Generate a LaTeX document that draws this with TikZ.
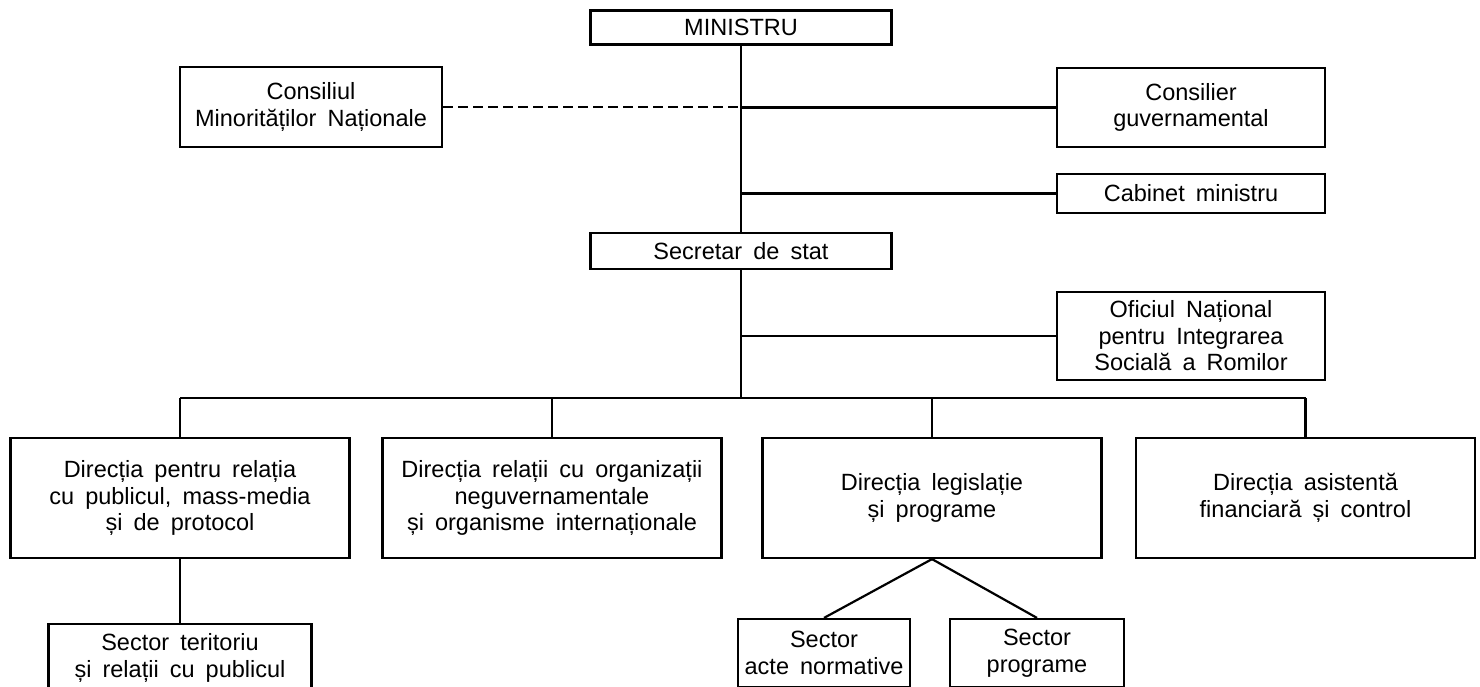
\documentclass[tikz,border=0pt]{standalone}
\usepackage{fontspec}
\setmainfont{Liberation Sans}[WordSpace=1.7]
\usetikzlibrary{calc}

\tikzset{
	box/.style = {draw, line width = 2.2pt, align = center, inner sep = 0pt, font = \fontsize{23.5}{26.5}\selectfont},
	link/.style = {line width = 2.2pt},
}

\begin{document}
\begin{tikzpicture}[x = 1pt, y = -1pt]
		\def\trunk{741};
		\def\bus{398};
		\def\wtop{301}
		\def\wside{268}
		\def\wdir{339}
		\def\hdir{120}
		
		\useasboundingbox (0,0) rectangle (1480,686);
		\clip (0,0) rectangle (1480,686);
		
		\coordinate (bus) at (0,\bus);
		
		\node [box, minimum width = \wtop pt, minimum height = 34pt] (ministru) at (\trunk,27.5) {MINISTRU};
		\node [box, minimum width = \wtop pt, minimum height = 36pt] (secretar) at (\trunk,251) {Secretar de stat};
		
		\node [box, minimum width = 262pt, minimum height = 80pt] (consiliul) at (311,107) {Consiliul\\Minorităților Naționale};
		\node [box, minimum width = \wside pt, minimum height = 79pt] (consilier) at (1191,107.5) {Consilier\\guvernamental};
		\node [box, minimum width = \wside pt, minimum height = 39pt] (cabinet) at (1191,193.5) {Cabinet ministru};
		\node [box, minimum width = \wside pt, minimum height = 88pt] (oficiul) at (1191,336) {Oficiul Național\\pentru Integrarea\\Socială a Romilor};
		
		\node [box, minimum width = \wdir pt, minimum height = \hdir pt] (directia publicul) at (180,498) {Direcția pentru relația\\cu publicul, mass-media\\și de protocol};
		\node [box, minimum width = \wdir pt, minimum height = \hdir pt] (directia ong) at (552,498) {Direcția relații cu organizații\\neguvernamentale\\și organisme internaționale};
		\node [box, minimum width = \wdir pt, minimum height = \hdir pt] (directia legislatie) at (932,498) {Direcția legislație\\și programe};
		\node [box, minimum width = \wdir pt, minimum height = \hdir pt] (directia financiar) at (1305.5,498) {Direcția asistentă\\financiară și control};
		
		\node [box, minimum width = 263pt, minimum height = 68pt] (sector teritoriu) at (180,658) {Sector teritoriu\\și relații cu publicul};
		\node [box, minimum width = 172pt, minimum height = 68pt] (sector acte) at (824,653) {Sector\\acte normative};
		\node [box, minimum width = 174pt, minimum height = 68pt] (sector programe) at (1037,653) {Sector\\programe};
		
		\draw [link] (ministru) -- (secretar);
		\draw [link, dash pattern = on 10pt off 5pt] (consiliul.east) -- (consiliul.east -| ministru.south);
		\draw [link] (consilier.west) -- (consilier.west -| ministru.south);
		\draw [link] (cabinet.west) -- (cabinet.west -| ministru.south);
		\draw [link] (oficiul.west) -- (oficiul.west -| secretar.south);
		
		%bus to the directions
		\draw [link] (secretar.south) -- (secretar.south |- bus);
		\draw [link] (directia publicul.north |- bus) -- (directia financiar.north |- bus);
		\draw [link] (directia publicul.north |- bus) -- (directia publicul.north);
		\draw [link] (directia ong.north |- bus) -- (directia ong.north);
		\draw [link] (directia legislatie.north |- bus) -- (directia legislatie.north);
		\draw [link] (directia financiar.north |- bus) -- (directia financiar.north);
		
		\draw [link] (directia publicul.south) -- (sector teritoriu.north);
		\draw [link] (directia legislatie.south) -- (sector acte.north);
		\draw [link] (directia legislatie.south) -- (sector programe.north);
	\end{tikzpicture}
\end{document}
